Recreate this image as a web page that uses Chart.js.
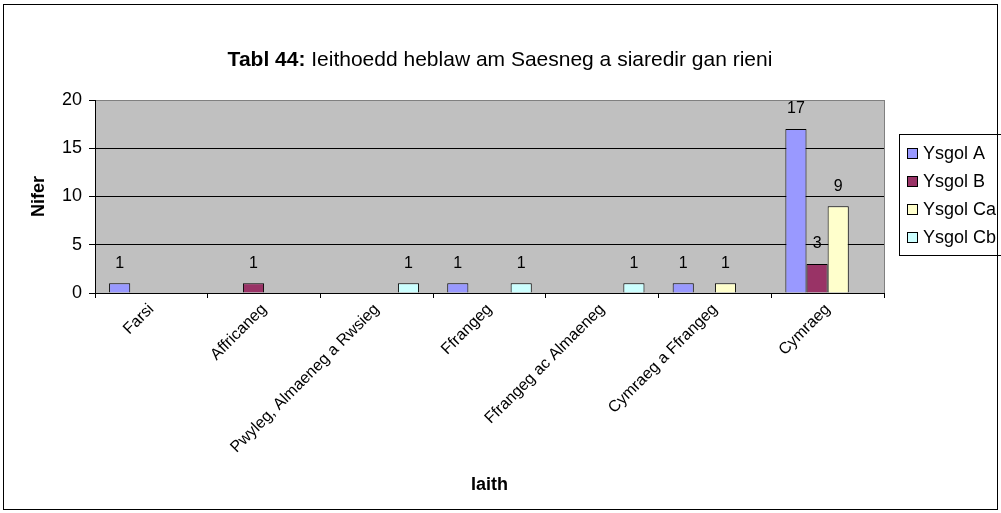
<!DOCTYPE html>
<html>
<head>
<meta charset="utf-8">
<script src="https://cdn.jsdelivr.net/npm/chart.js@4.4.1/dist/chart.umd.min.js"></script>
<style>
  html, body { margin: 0; padding: 0; background: #fff; }
  #wrap { width: 1001px; height: 513px; }
</style>
</head>
<body>
<div id="wrap"><canvas id="barChart" width="1001" height="513"></canvas></div>
<script>
// chart data
var categories = ["Farsi", "Affricaneg", "Pwyleg, Almaeneg a Rwsieg", "Ffrangeg",
  "Ffrangeg ac Almaeneg", "Cymraeg a Ffrangeg", "Cymraeg"];
var ysgolA  = [1, null, null, 1, null, 1, 17];
var ysgolB  = [null, 1, null, null, null, null, 3];
var ysgolCa = [null, null, null, null, null, 1, 9];
var ysgolCb = [null, null, 1, 1, 1, null, null];
var seriesNames = ["Ysgol A", "Ysgol B", "Ysgol Ca", "Ysgol Cb"];
var yTicks = [0, 5, 10, 15, 20];

var FONT = "'Liberation Sans', Arial, sans-serif";
var colors = ['#9999FF', '#993366', '#FFFFCC', '#CCFFFF'];

// background, gray plot area and outer frame
var frame = {
  id: 'frame',
  beforeDraw: function(chart) {
    var c = chart.ctx, a = chart.chartArea;
    c.save();
    c.fillStyle = '#fff';
    c.fillRect(0, 0, chart.width, chart.height);
    c.strokeStyle = '#000';
    c.lineWidth = 1;
    c.strokeRect(3.5, 4.5, 994, 505);
    c.fillStyle = '#C0C0C0';
    c.fillRect(a.left, a.top, a.right - a.left, a.bottom - a.top);
    c.restore();
  },
  beforeDatasetsDraw: function(chart) {
    var c = chart.ctx, a = chart.chartArea;
    c.save();
    c.strokeStyle = '#808080';
    c.lineWidth = 1;
    c.beginPath();
    c.moveTo(Math.round(a.right) + 0.5, a.top);
    c.lineTo(Math.round(a.right) + 0.5, a.bottom);
    c.stroke();
    c.restore();
  }
};

// value labels above the bars
var valueLabels = {
  id: 'valueLabels',
  afterDatasetsDraw: function(chart) {
    var c = chart.ctx;
    c.save();
    c.font = '16px ' + FONT;
    c.fillStyle = '#000';
    c.textAlign = 'center';
    c.textBaseline = 'middle';
    chart.data.datasets.forEach(function(ds, i) {
      chart.getDatasetMeta(i).data.forEach(function(bar, j) {
        if (ds.data[j] == null) return;
        c.fillText(String(ds.data[j]), bar.x, bar.y - 20);
      });
    });
    c.restore();
  }
};

// title with bold prefix
var mixedTitle = {
  id: 'mixedTitle',
  afterDraw: function(chart) {
    var c = chart.ctx;
    var bold = 'Tabl 44: ', rest = 'Ieithoedd heblaw am Saesneg a siaredir gan rieni';
    c.save();
    c.fillStyle = '#000';
    c.textBaseline = 'middle';
    c.font = 'bold 21px ' + FONT;
    var w1 = c.measureText(bold).width;
    c.font = '21px ' + FONT;
    var w2 = c.measureText(rest).width;
    var x = 500 - (w1 + w2) / 2;
    c.font = 'bold 21px ' + FONT;
    c.fillText(bold, x, 60);
    c.font = '21px ' + FONT;
    c.fillText(rest, x + w1, 60);
    c.restore();
  }
};

// boxed legend on the right
var boxLegend = {
  id: 'boxLegend',
  afterDraw: function(chart) {
    var c = chart.ctx;
    var left = 899, top = 134, rowH = 28;
    c.save();
    c.strokeStyle = '#000';
    c.lineWidth = 1;
    c.strokeRect(left + 0.5, top + 0.5, 120, 121);
    c.font = '18px ' + FONT;
    c.textBaseline = 'middle';
    chart.data.datasets.forEach(function(ds, i) {
      var y = top + 19 + i * rowH;
      c.fillStyle = ds.backgroundColor;
      c.fillRect(left + 8.5, y - 4.5, 10, 10);
      c.strokeRect(left + 8.5, y - 4.5, 10, 10);
      c.fillStyle = '#000';
      c.fillText(ds.label, left + 24, y + 1);
    });
    c.restore();
  }
};

var seriesData = [ysgolA, ysgolB, ysgolCa, ysgolCb];
var datasets = seriesNames.map(function(name, i) {
  return {
    label: name,
    data: seriesData[i],
    backgroundColor: colors[i],
    borderColor: '#000',
    borderWidth: 1,
    categoryPercentage: 0.75,
    barPercentage: 1
  };
});

var ctx = document.getElementById('barChart').getContext('2d');
var myBarChart = new Chart(ctx, {
  type: 'bar',
  data: { labels: categories, datasets: datasets },
  options: {
    responsive: false,
    animation: false,
    devicePixelRatio: 1,
    layout: { padding: { top: 100, right: 117, left: 0, bottom: 0 } },
    plugins: {
      legend: { display: false },
      title: { display: false },
      tooltip: { enabled: false }
    },
    scales: {
      x: {
        afterFit: function(scale) { scale.height = 220; },
        grid: { offset: true, drawOnChartArea: false, color: '#000', tickLength: 5 },
        border: { color: '#000' },
        ticks: { color: '#000', font: { family: FONT, size: 16 }, maxRotation: 45, minRotation: 45, autoSkip: false, padding: 2 },
        title: { display: true, text: 'Iaith', color: '#000', font: { family: FONT, size: 18, weight: 'bold' }, padding: { top: 0, bottom: 17 } }
      },
      y: {
        min: yTicks[0],
        max: yTicks[yTicks.length - 1],
        afterFit: function(scale) { scale.width = 95; },
        afterBuildTicks: function(scale) { scale.ticks = yTicks.map(function(v) { return { value: v }; }); },
        grid: {
          color: function(c) { return c.tick && c.tick.value === 20 ? '#808080' : '#000'; },
          tickColor: '#000',
          tickLength: 6
        },
        border: { color: '#000' },
        ticks: { color: '#000', font: { family: FONT, size: 18 }, padding: 7 },
        title: { display: true, text: 'Nifer', color: '#000', font: { family: FONT, size: 18, weight: 'bold' }, padding: { top: 28, bottom: 0 } }
      }
    }
  },
  plugins: [frame, valueLabels, mixedTitle, boxLegend]
});
</script>
</body>
</html>
